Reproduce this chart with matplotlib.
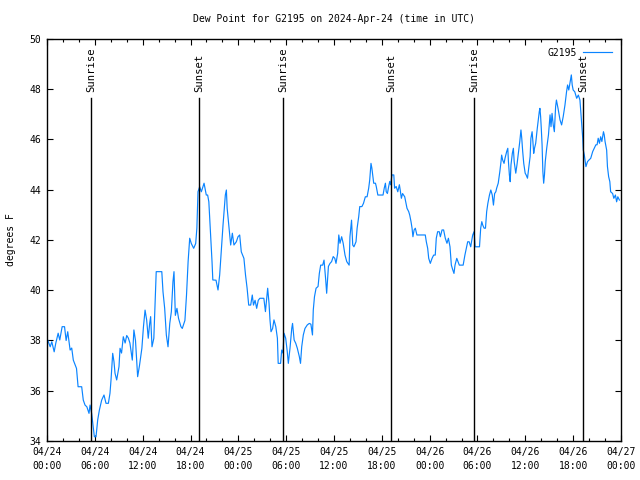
import matplotlib
matplotlib.use("Agg")
import matplotlib.pyplot as plt
from matplotlib.ticker import MultipleLocator

# hours since 2024-04-24 00:00 UTC
hours = [0.0,0.4,0.6,0.9,1.1,1.4,1.6,1.9,2.2,2.4,2.6,2.9,3.1,3.3,3.7,3.9,4.35,4.55,4.77,5.0,5.27,5.4,5.6,5.8,5.94,6.15,6.36,6.57,6.86,7.15,7.4,7.7,7.9,8.03,8.24,8.4,8.53,8.74,9.03,9.16,9.35,9.57,9.8,10.0,10.2,10.4,10.7,10.9,11.1,11.37,11.6,11.9,12.1,12.3,12.5,12.7,
         12.88,13.0,13.17,13.4,13.6,13.7,14.4,14.55,14.76,14.97,15.18,15.4,15.6,15.8,15.93,16.1,16.3,16.5,16.8,16.97,17.3,17.5,17.7,17.9,18.1,18.4,18.65,18.8,18.94,19.15,19.36,19.7,19.98,20.15,20.3,20.5,20.7,20.8,21.2,21.45,21.66,21.86,22.08,22.37,22.5,22.6,22.8,23.04,23.25,23.45,23.75,23.96,24.17,24.37,24.7,24.9,25.1,25.3,25.55,25.75,
         25.9,26.1,26.3,26.5,26.7,27.2,27.4,27.68,27.85,27.97,28.1,28.3,28.47,28.7,28.9,29.0,29.3,29.44,29.6,29.73,29.94,30.14,30.27,30.48,30.7,30.8,31.0,31.2,31.4,31.65,31.8,31.95,32.15,32.36,32.65,32.9,33.1,33.3,33.4,33.55,33.75,34.0,34.16,34.33,34.58,34.75,34.96,35.08,35.3,35.5,35.7,35.9,36.1,36.25,36.46,36.6,36.75,36.96,37.15,37.38,37.6,37.9,38.0,38.2,38.35,
         38.5,38.76,38.9,39.1,39.23,39.5,39.7,39.93,40.15,40.35,40.48,40.64,40.75,40.9,40.98,41.2,41.3,41.5,42.15,42.3,42.45,42.55,42.7,42.86,42.99,43.1,43.27,43.5,43.6,43.8,44.0,44.2,44.3,44.45,44.6,44.87,45.03,45.16,45.37,45.5,45.66,45.79,45.9,46.05,46.2,46.4,47.45,47.58,47.75,47.88,48.08,48.3,48.5,48.7,48.83,49.0,49.2,49.34,49.55,49.75,49.96,50.17,50.35,50.55,50.72,
         50.9,51.05,51.18,51.4,51.55,51.72,52.2,52.42,52.64,52.77,52.95,53.15,53.25,53.4,53.57,53.7,54.25,54.4,54.54,54.65,54.83,55.0,55.15,55.3,55.5,55.67,55.85,56.0,56.15,56.3,56.4,56.6,56.8,56.95,57.03,57.15,57.33,57.45,57.66,57.8,57.88,58.0,58.1,58.2,58.37,58.5,58.6,58.8,58.95,59.1,59.3,59.45,59.55,59.67,59.8,59.98,60.1,60.27,60.4,60.6,60.7,60.85,60.95,61.05,61.15,61.3,61.5,61.63,61.75,61.83,61.92,62.0,62.1,62.2,62.3,62.4,
         62.5,62.68,62.9,63.1,63.22,63.35,63.5,63.64,63.8,63.9,64.1,64.35,64.55,64.75,64.97,65.17,65.3,65.45,65.6,65.77,65.88,66.0,66.2,66.44,66.65,66.85,67.07,67.2,67.27,67.4,67.6,67.8,68.0,68.2,68.45,68.65,68.85,69.0,69.14,69.3,69.45,69.6,69.8,69.9,70.0,70.2,70.3,70.45,70.6,70.7,70.95,71.1,71.3,71.45,71.6,71.8]

dewpoint = [38.09,37.75,37.95,37.55,37.89,38.29,38.02,38.55,38.55,38.0,38.35,37.62,37.7,37.22,36.89,36.16,36.16,35.63,35.43,35.36,35.1,35.43,35.1,34.57,34.17,34.17,34.84,35.23,35.63,35.83,35.5,35.5,35.9,36.43,37.49,37.16,36.7,36.43,36.96,37.69,37.5,38.15,37.9,38.2,38.1,37.9,37.22,38.42,38.0,36.56,37.0,37.69,38.55,39.21,38.82,38.09,
            38.68,38.95,37.75,38.09,39.94,40.74,40.74,39.94,39.28,38.22,37.75,38.68,39.15,40.34,40.74,39.0,39.28,38.88,38.55,38.48,38.8,39.81,41.14,42.07,41.86,41.67,41.86,42.47,43.92,44.12,43.92,44.26,43.79,43.79,43.52,42.33,41.14,40.41,40.4,40.01,40.61,41.53,42.6,43.79,43.99,43.26,42.6,41.8,42.27,41.8,41.93,42.13,42.2,41.53,41.27,40.61,40.08,39.41,39.41,39.81,
            39.41,39.6,39.28,39.6,39.68,39.68,39.15,40.08,39.48,38.82,38.35,38.48,38.82,38.55,38.09,37.09,37.09,37.62,37.5,38.29,38.09,37.55,37.09,37.69,38.48,38.68,38.02,37.89,37.69,37.36,37.09,37.75,38.22,38.48,38.62,38.68,38.65,38.22,39.21,39.74,40.08,40.15,40.67,41.0,41.0,41.2,40.41,39.88,40.95,41.07,41.14,41.34,41.27,41.07,41.47,42.2,41.87,42.13,41.87,41.4,41.14,41.0,42.13,42.79,41.8,
            41.73,41.93,42.47,42.93,43.33,43.33,43.46,43.72,43.72,44.06,44.39,45.05,44.86,44.46,44.26,44.26,44.13,43.79,43.79,44.06,44.26,43.92,43.85,44.13,44.33,44.2,44.59,44.59,44.06,44.13,43.92,44.2,44.0,43.66,43.85,43.72,43.46,43.26,43.13,42.99,42.73,42.47,42.13,42.4,42.47,42.2,42.2,41.93,41.67,41.27,41.07,41.27,41.4,41.4,42.07,42.33,42.33,42.13,42.4,42.4,42.07,41.87,42.07,41.73,41.0,
            40.81,40.67,41.0,41.27,41.14,41.0,41.0,41.4,41.73,41.93,41.93,41.73,41.93,42.2,42.33,41.73,41.73,42.47,42.73,42.6,42.47,42.47,43.13,43.46,43.79,43.99,43.79,43.39,43.85,43.92,44.06,44.26,44.72,45.12,45.38,45.19,45.05,45.25,45.52,45.65,45.12,44.59,44.32,44.99,45.45,45.65,45.12,44.66,44.99,45.38,45.91,46.38,46.05,45.52,45.05,44.66,44.59,44.46,44.79,45.32,46.05,46.31,45.91,45.45,45.65,45.85,46.45,46.78,47.11,47.24,46.9,46.45,45.79,44.72,44.26,44.59,
            45.12,45.65,46.18,46.98,46.51,47.04,46.58,46.31,47.31,47.57,47.24,46.78,46.58,46.91,47.37,47.9,48.17,47.97,48.24,48.57,48.17,47.97,47.9,47.64,47.77,47.57,46.58,46.05,45.58,45.38,44.92,45.12,45.19,45.25,45.52,45.65,45.79,45.79,46.05,45.85,46.11,45.92,46.31,46.18,45.92,45.58,44.92,44.52,44.32,43.92,43.85,43.66,43.79,43.52,43.72,43.59]

sun_hours = [5.58, 19.07, 29.64, 43.19, 53.6, 67.27]
sun_labels = ["Sunrise", "Sunset", "Sunrise", "Sunset", "Sunrise", "Sunset"]

xtick_hours = list(range(0, 73, 6))
xtick_labels = ["04/24\n00:00", "04/24\n06:00", "04/24\n12:00", "04/24\n18:00",
                "04/25\n00:00", "04/25\n06:00", "04/25\n12:00", "04/25\n18:00",
                "04/26\n00:00", "04/26\n06:00", "04/26\n12:00", "04/26\n18:00",
                "04/27\n00:00"]
ytick_vals = [34, 36, 38, 40, 42, 44, 46, 48, 50]

FONT = "DejaVu Sans Mono"
FS = 7

fig = plt.figure(figsize=(6.4, 4.8), dpi=100)
ax = fig.add_axes([47/640, 39/480, (621-47)/640, (441-39)/480])

ax.plot(hours, dewpoint, color="#0a84ff", lw=0.85, label="G2195")

for h, lab in zip(sun_hours, sun_labels):
    ax.axvline(h, ymin=0, ymax=(441-98)/402, color="black", lw=1.0)
    ax.text(h, 50 - (92-39)/402*16, lab, rotation=90, ha="center", va="bottom",
            fontsize=7.6, family=FONT)

ax.set_xlim(0, 72)
ax.set_ylim(34, 50)
ax.set_xticks(xtick_hours)
ax.set_xticklabels(xtick_labels, fontsize=FS, family=FONT, linespacing=1.6)
ax.xaxis.set_minor_locator(MultipleLocator(2))
ax.set_yticks(ytick_vals)
ax.set_yticklabels([str(v) for v in ytick_vals], fontsize=FS, family=FONT)
ax.tick_params(which="both", direction="in", top=True, right=True, width=0.8)
ax.tick_params(which="major", length=4, pad=4)
ax.tick_params(which="minor", length=2)
for s in ax.spines.values():
    s.set_linewidth(1.0)

ax.set_title("Dew Point for G2195 on 2024-Apr-24 (time in UTC)", fontsize=FS,
             family=FONT, pad=12)
ax.set_ylabel("degrees F", fontsize=FS, family=FONT, labelpad=10)

leg = ax.legend(loc="upper right", frameon=False, markerfirst=False,
                prop={"family": FONT, "size": FS}, handlelength=3.0,
                borderaxespad=0.5, handletextpad=0.6)

fig.savefig("out.png", dpi=100)
